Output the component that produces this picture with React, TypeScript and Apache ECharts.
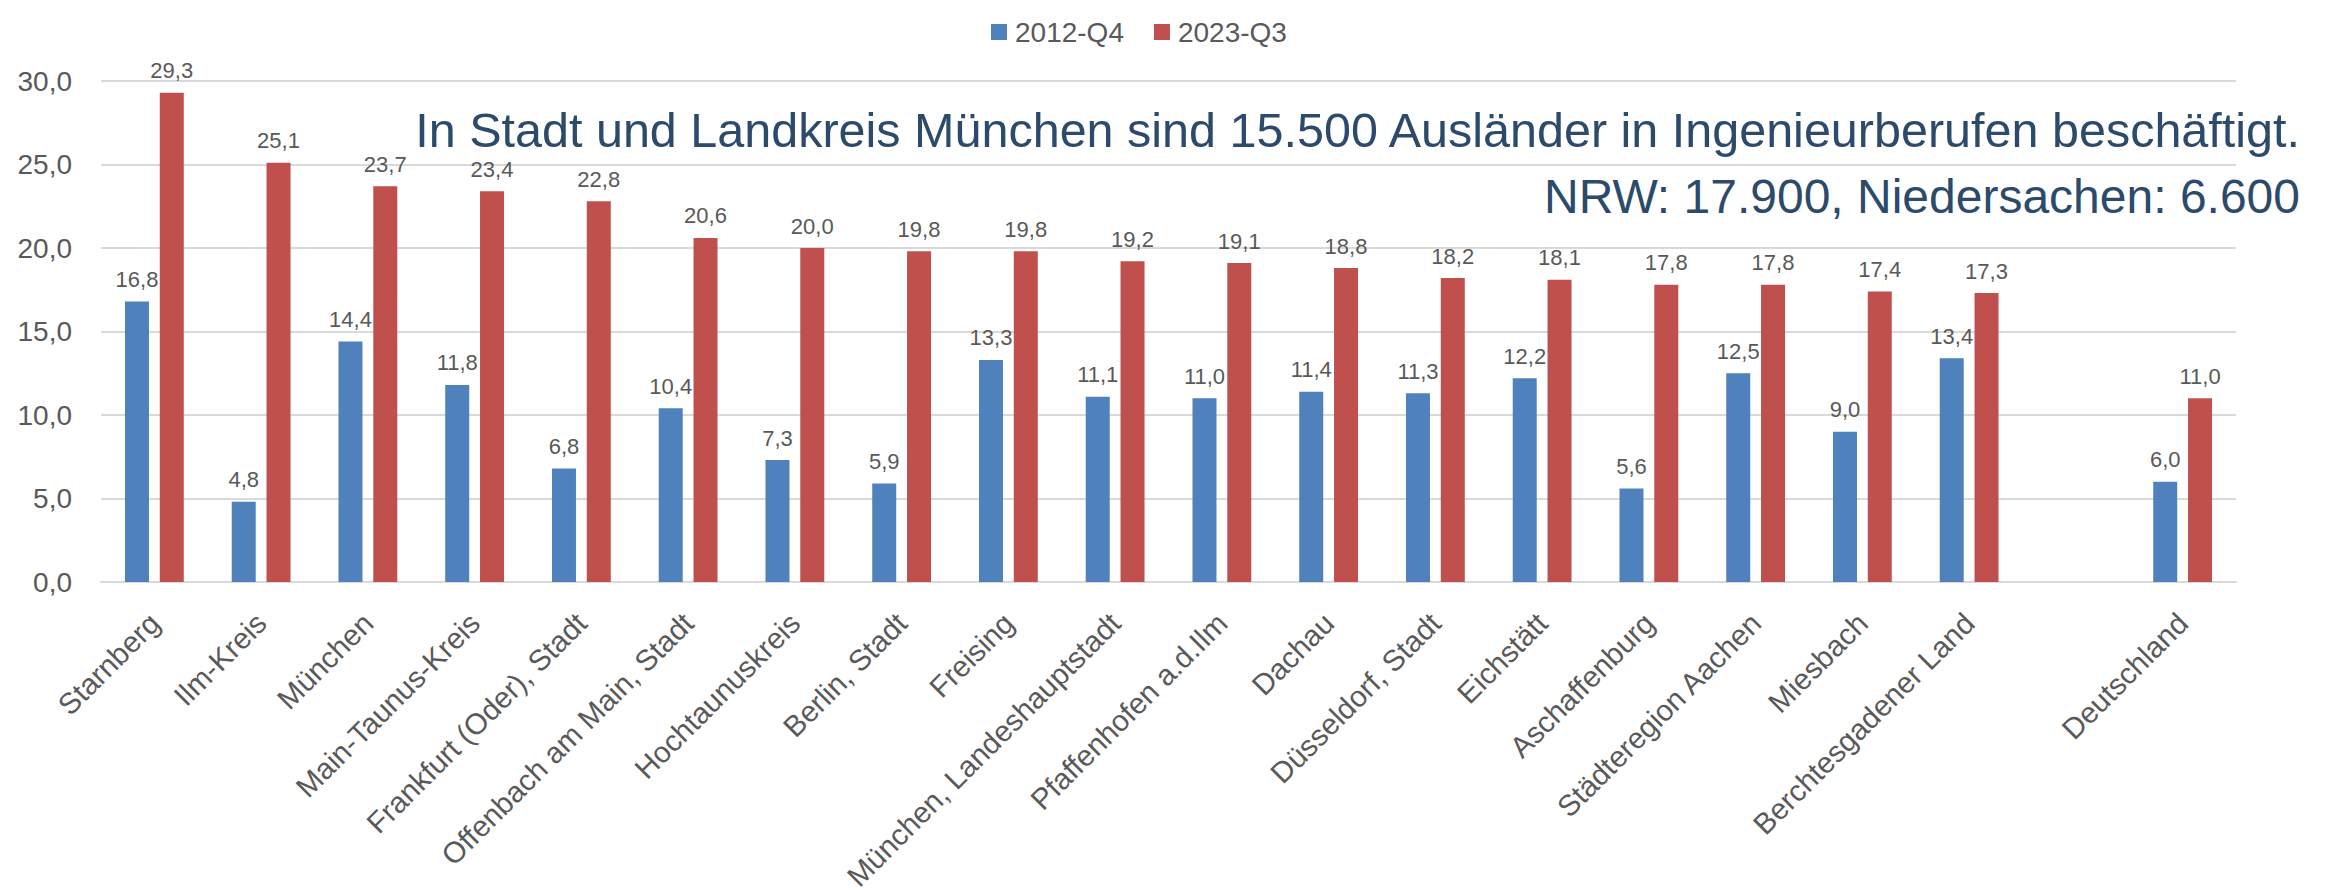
import React, { useEffect, useRef } from "react";
import * as echarts from "echarts";

const categories: string[] = [
  "Starnberg",
  "Ilm-Kreis",
  "München",
  "Main-Taunus-Kreis",
  "Frankfurt (Oder), Stadt",
  "Offenbach am Main, Stadt",
  "Hochtaunuskreis",
  "Berlin, Stadt",
  "Freising",
  "München, Landeshauptstadt",
  "Pfaffenhofen a.d.Ilm",
  "Dachau",
  "Düsseldorf, Stadt",
  "Eichstätt",
  "Aschaffenburg",
  "Städteregion Aachen",
  "Miesbach",
  "Berchtesgadener Land",
  "",
  "Deutschland",
];

const series2012Q4: (number | null)[] = [
  16.8, 4.8, 14.4, 11.8, 6.8, 10.4, 7.3, 5.9, 13.3, 11.1, 11.0, 11.4, 11.3, 12.2, 5.6, 12.5, 9.0, 13.4, null, 6.0,
];

const series2023Q3: (number | null)[] = [
  29.3, 25.1, 23.7, 23.4, 22.8, 20.6, 20.0, 19.8, 19.8, 19.2, 19.1, 18.8, 18.2, 18.1, 17.8, 17.8, 17.4, 17.3, null, 11.0,
];

const seriesNames: string[] = ["2012-Q4", "2023-Q3"];

const titleLines: string[] = [
  "In Stadt und Landkreis München sind 15.500 Ausländer in Ingenieurberufen beschäftigt.",
  "NRW: 17.900, Niedersachen: 6.600",
];

const FONT = "'Liberation Sans', Arial, sans-serif";
const fmt = (v: number) => v.toFixed(1).replace(".", ",");

export default function App() {
  const ref = useRef<HTMLDivElement>(null);

  useEffect(() => {
    document.body.style.margin = "0";
    if (!ref.current) return;
    const chart = echarts.init(ref.current, undefined, { renderer: "svg" });
    const labelStyle = {
      show: true,
      position: "top" as const,
      distance: 11,
      color: "#595959",
      fontSize: 22,
      lineHeight: 22,
      fontFamily: FONT,
      formatter: (p: any) => (p.value == null ? "" : fmt(p.value)),
    };
    chart.setOption({
      animation: false,
      backgroundColor: "#ffffff",
      textStyle: { fontFamily: FONT },
      legend: {
        left: 986,
        top: 13,
        itemWidth: 16,
        itemHeight: 16,
        itemGap: 30,
        icon: "rect",
        textStyle: { fontSize: 28, color: "#595959", fontFamily: FONT, padding: [0, 0, 0, 3] },
        data: seriesNames,
      },
      grid: { left: 101, right: 95, top: 81, bottom: 306, containLabel: false },
      xAxis: {
        type: "category",
        data: categories,
        axisLine: { show: true, lineStyle: { color: "#D9D9D9", width: 2 } },
        axisTick: { show: false },
        axisLabel: {
          interval: 0,
          rotate: 45,
          margin: 36,
          fontSize: 29.5,
          color: "#595959",
          fontFamily: FONT,
        },
      },
      yAxis: {
        type: "value",
        min: 0,
        max: 30,
        interval: 5,
        axisLine: { show: false },
        axisTick: { show: false },
        splitLine: { lineStyle: { color: "#D9D9D9", width: 2 } },
        axisLabel: {
          margin: 29,
          fontSize: 28,
          color: "#595959",
          fontFamily: FONT,
          formatter: (v: number) => fmt(v),
        },
      },
      series: [
        {
          name: seriesNames[0],
          type: "bar",
          data: series2012Q4,
          barWidth: 24,
          barGap: "45%",
          itemStyle: { color: "#4F81BD" },
          label: labelStyle,
        },
        {
          name: seriesNames[1],
          type: "bar",
          data: series2023Q3,
          barWidth: 24,
          barGap: "45%",
          itemStyle: { color: "#C0504D" },
          label: labelStyle,
        },
      ],
      graphic: [
        {
          type: "text",
          x: 2300,
          y: 130,
          style: {
            text: titleLines[0],
            fill: "#2C4A6B",
            font: `48.5px ${FONT}`,
            lineHeight: 48,
            textAlign: "right",
            textVerticalAlign: "middle",
          },
        },
        {
          type: "text",
          x: 2300,
          y: 196,
          style: {
            text: titleLines[1],
            fill: "#2C4A6B",
            font: `48px ${FONT}`,
            lineHeight: 48,
            textAlign: "right",
            textVerticalAlign: "middle",
          },
        },
      ],
    });
    return () => chart.dispose();
  }, []);

  return <div ref={ref} style={{ width: 2331, height: 894 }} />;
}
